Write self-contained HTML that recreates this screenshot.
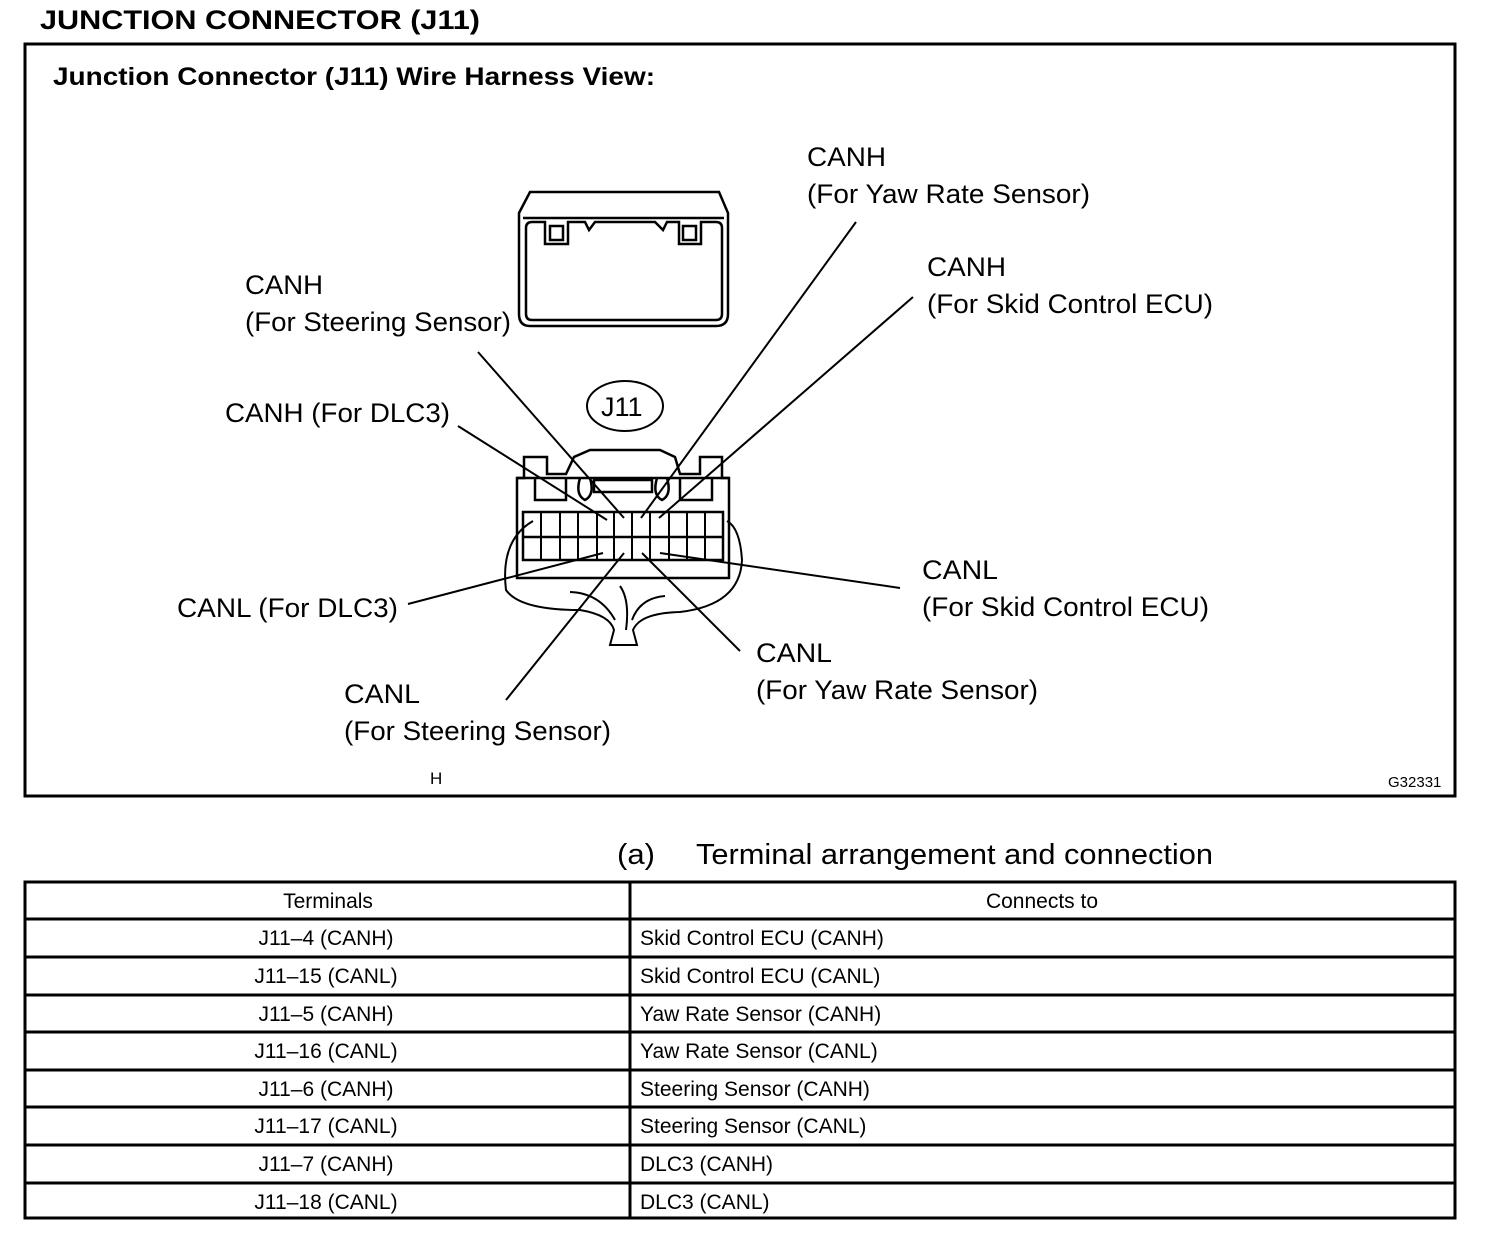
<!DOCTYPE html>
<html><head><meta charset="utf-8"><style>
html,body{margin:0;padding:0;background:#fff;}
svg{display:block;}
text{font-family:"Liberation Sans",Arial,sans-serif;fill:#000;}
</style></head><body>
<svg width="1504" height="1238" viewBox="0 0 1504 1238" xmlns="http://www.w3.org/2000/svg">
<text x="40" y="29" font-size="27" font-weight="bold" textLength="440" lengthAdjust="spacingAndGlyphs">JUNCTION CONNECTOR (J11)</text>
<rect x="25" y="44" width="1430" height="752" fill="none" stroke="#000" stroke-width="3"/>
<text x="53" y="85" font-size="25" font-weight="bold" textLength="602" lengthAdjust="spacingAndGlyphs">Junction Connector (J11) Wire Harness View:</text>

<g font-size="27">
<text x="807" y="166" textLength="79" lengthAdjust="spacingAndGlyphs">CANH</text>
<text x="807" y="203" textLength="283" lengthAdjust="spacingAndGlyphs">(For Yaw Rate Sensor)</text>
<text x="927" y="276" textLength="79" lengthAdjust="spacingAndGlyphs">CANH</text>
<text x="927" y="313" textLength="286" lengthAdjust="spacingAndGlyphs">(For Skid Control ECU)</text>
<text x="245" y="294" textLength="78" lengthAdjust="spacingAndGlyphs">CANH</text>
<text x="245" y="331" textLength="266" lengthAdjust="spacingAndGlyphs">(For Steering Sensor)</text>
<text x="225" y="422" textLength="225" lengthAdjust="spacingAndGlyphs">CANH (For DLC3)</text>
<text x="177" y="617" textLength="221" lengthAdjust="spacingAndGlyphs">CANL (For DLC3)</text>
<text x="922" y="579" textLength="76" lengthAdjust="spacingAndGlyphs">CANL</text>
<text x="922" y="616" textLength="287" lengthAdjust="spacingAndGlyphs">(For Skid Control ECU)</text>
<text x="756" y="662" textLength="76" lengthAdjust="spacingAndGlyphs">CANL</text>
<text x="756" y="699" textLength="282" lengthAdjust="spacingAndGlyphs">(For Yaw Rate Sensor)</text>
<text x="344" y="703" textLength="76" lengthAdjust="spacingAndGlyphs">CANL</text>
<text x="344" y="740" textLength="267" lengthAdjust="spacingAndGlyphs">(For Steering Sensor)</text>
<text x="601" y="416">J11</text>
</g>
<text x="430" y="784" font-size="17">H</text>
<text x="1388" y="787" font-size="15">G32331</text>
<ellipse cx="625" cy="406" rx="38" ry="25" fill="none" stroke="#000" stroke-width="2"/>

<g fill="none" stroke="#000" stroke-width="2.5">
<path d="M519 213 L530 192 L719 192 L728 213 L728 314 Q728 326 716 326 L530 326 Q519 326 519 314 Z"/>
<path d="M523 218 L724 218"/>
<path d="M526 228 Q526 222 532 222 L545 222 L545 244 L568 244 L568 222 L585 222 L589 230 L595 222 L655 222 L663 230 L667 222 L679 222 L679 244 L701 244 L701 222 L716 222 Q722 222 722 228 L722 314 Q722 320 716 320 L532 320 Q526 320 526 314 Z"/>
<rect x="550" y="226" width="13" height="14"/>
<rect x="683" y="226" width="13" height="14"/>
</g>

<g fill="none" stroke="#000" stroke-width="2.5">
<path d="M517 578 L517 478 L524 478 L524 457 L547 457 L547 474 L566 474 L574 457 L590 450 L660 450 L675 457 L680 474 L700 474 L700 457 L722 457 L722 478 L729 478 L729 578 Z"/>
<path d="M517 478 L729 478"/>
<path d="M535 478 L535 500 L566 500 L566 478"/>
<path d="M680 478 L680 500 L712 500 L712 478"/>
<rect x="594" y="480" width="58" height="12"/>
<path d="M580 478 Q575 495 585 500 Q595 495 590 478"/>
<path d="M657 478 Q652 495 662 500 Q672 495 667 478"/>
<rect x="523" y="512" width="200" height="48"/>
<path d="M523 537 L723 537"/>
<path d="M541 512V560M560 512V560M578 512V560M597 512V560M614 512V560M632 512V560M650 512V560M669 512V560M687 512V560M705 512V560" stroke-width="2"/>
<path d="M533 521 Q500 540 506 590 Q520 610 580 610 Q610 615 614 630 L610 645 L637 645 L633 630 Q640 613 680 612 Q740 605 742 560 Q740 528 727 521" stroke-width="2"/>
<path d="M570 592 Q600 593 615 620 M620 586 Q630 600 626 630 M665 596 Q640 598 632 620" stroke-width="2"/>
</g>

<g stroke="#000" stroke-width="2">
<line x1="478" y1="352" x2="624" y2="518"/>
<line x1="856" y1="222" x2="641" y2="518"/>
<line x1="913" y1="297" x2="659" y2="518"/>
<line x1="458" y1="426" x2="607" y2="520"/>
<line x1="408" y1="604" x2="603" y2="553"/>
<line x1="660" y1="553" x2="900" y2="588"/>
<line x1="642" y1="553" x2="740" y2="651"/>
<line x1="506" y1="700" x2="624" y2="553"/>
</g>

<text x="617" y="864" font-size="29" textLength="38" lengthAdjust="spacingAndGlyphs">(a)</text>
<text x="696" y="864" font-size="29" textLength="517" lengthAdjust="spacingAndGlyphs">Terminal arrangement and connection</text>

<g stroke="#000" stroke-width="3" fill="none">
<rect x="25" y="882" width="1430" height="336"/>
<line x1="630" y1="882" x2="630" y2="1218"/>
<path d="M25 919H1455M25 957H1455M25 995H1455M25 1032H1455M25 1070H1455M25 1107H1455M25 1145H1455M25 1183H1455"/>
</g>
<g font-size="21">
<text x="328" y="908" text-anchor="middle">Terminals</text>
<text x="1042" y="908" text-anchor="middle">Connects to</text>
<text x="326" y="945" text-anchor="middle">J11–4 (CANH)</text>
<text x="326" y="983" text-anchor="middle">J11–15 (CANL)</text>
<text x="326" y="1021" text-anchor="middle">J11–5 (CANH)</text>
<text x="326" y="1058" text-anchor="middle">J11–16 (CANL)</text>
<text x="326" y="1096" text-anchor="middle">J11–6 (CANH)</text>
<text x="326" y="1133" text-anchor="middle">J11–17 (CANL)</text>
<text x="326" y="1171" text-anchor="middle">J11–7 (CANH)</text>
<text x="326" y="1209" text-anchor="middle">J11–18 (CANL)</text>
<text x="640" y="945">Skid Control ECU (CANH)</text>
<text x="640" y="983">Skid Control ECU (CANL)</text>
<text x="640" y="1021">Yaw Rate Sensor (CANH)</text>
<text x="640" y="1058">Yaw Rate Sensor (CANL)</text>
<text x="640" y="1096">Steering Sensor (CANH)</text>
<text x="640" y="1133">Steering Sensor (CANL)</text>
<text x="640" y="1171">DLC3 (CANH)</text>
<text x="640" y="1209">DLC3 (CANL)</text>
</g>
</svg>
</body></html>
